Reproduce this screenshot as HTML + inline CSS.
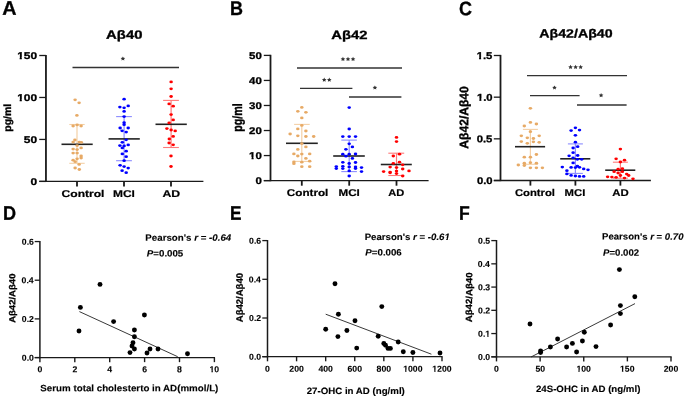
<!DOCTYPE html>
<html><head><meta charset="utf-8"><style>
html,body{margin:0;padding:0;background:#fff;}
svg{display:block;will-change:transform;}
text{font-family:"Liberation Sans",sans-serif;font-weight:bold;fill:#000;text-rendering:geometricPrecision;stroke:#000;}
</style></head><body>
<svg width="685" height="397" viewBox="0 0 685 397">
<rect width="685" height="397" fill="#fff"/>
<line x1="45.95" y1="54.90" x2="45.95" y2="182.01" stroke="#1a1a1a" stroke-width="1.8"/>
<line x1="39.25" y1="55.50" x2="45.95" y2="55.50" stroke="#1a1a1a" stroke-width="1.3"/>
<line x1="39.25" y1="97.47" x2="45.95" y2="97.47" stroke="#1a1a1a" stroke-width="1.3"/>
<line x1="39.25" y1="139.44" x2="45.95" y2="139.44" stroke="#1a1a1a" stroke-width="1.3"/>
<line x1="39.25" y1="181.41" x2="45.95" y2="181.41" stroke="#1a1a1a" stroke-width="1.3"/>
<line x1="39.25" y1="181.41" x2="203.40" y2="181.41" stroke="#1a1a1a" stroke-width="1.3"/>
<line x1="77.00" y1="181.41" x2="77.00" y2="186.51" stroke="#1a1a1a" stroke-width="1.8"/>
<line x1="124.00" y1="181.41" x2="124.00" y2="186.51" stroke="#1a1a1a" stroke-width="1.8"/>
<line x1="171.00" y1="181.41" x2="171.00" y2="186.51" stroke="#1a1a1a" stroke-width="1.8"/>
<line x1="72.50" y1="67.50" x2="179.00" y2="67.50" stroke="#333" stroke-width="1.4"/>
<polygon points="122.90,56.42 123.61,57.79 125.20,58.01 124.05,59.08 124.32,60.58 122.90,59.87 121.48,60.58 121.75,59.08 120.60,58.01 122.19,57.79" fill="#333"/>
<line x1="77.00" y1="124.50" x2="77.00" y2="163.30" stroke="#F4D0A6" stroke-width="1.2"/>
<line x1="69.30" y1="124.50" x2="84.70" y2="124.50" stroke="#F4D0A6" stroke-width="1.1"/>
<line x1="69.30" y1="163.30" x2="84.70" y2="163.30" stroke="#F4D0A6" stroke-width="1.1"/>
<line x1="61.50" y1="144.30" x2="92.70" y2="144.30" stroke="#222" stroke-width="1.6"/>
<ellipse cx="75.10" cy="99.80" rx="1.75" ry="1.4" fill="#E7AA66"/>
<ellipse cx="79.10" cy="102.80" rx="1.75" ry="1.4" fill="#E7AA66"/>
<ellipse cx="76.90" cy="115.40" rx="1.75" ry="1.4" fill="#E7AA66"/>
<ellipse cx="73.10" cy="126.00" rx="1.75" ry="1.4" fill="#E7AA66"/>
<ellipse cx="77.10" cy="124.90" rx="1.75" ry="1.4" fill="#E7AA66"/>
<ellipse cx="81.10" cy="126.00" rx="1.75" ry="1.4" fill="#E7AA66"/>
<ellipse cx="74.90" cy="140.00" rx="1.75" ry="1.4" fill="#E7AA66"/>
<ellipse cx="73.10" cy="142.10" rx="1.75" ry="1.4" fill="#E7AA66"/>
<ellipse cx="79.30" cy="142.10" rx="1.75" ry="1.4" fill="#E7AA66"/>
<ellipse cx="81.30" cy="142.30" rx="1.75" ry="1.4" fill="#E7AA66"/>
<ellipse cx="77.10" cy="145.60" rx="1.75" ry="1.4" fill="#E7AA66"/>
<ellipse cx="81.10" cy="147.90" rx="1.75" ry="1.4" fill="#E7AA66"/>
<ellipse cx="73.10" cy="149.10" rx="1.75" ry="1.4" fill="#E7AA66"/>
<ellipse cx="77.10" cy="149.60" rx="1.75" ry="1.4" fill="#E7AA66"/>
<ellipse cx="73.10" cy="153.10" rx="1.75" ry="1.4" fill="#E7AA66"/>
<ellipse cx="77.10" cy="153.10" rx="1.75" ry="1.4" fill="#E7AA66"/>
<ellipse cx="81.10" cy="156.00" rx="1.75" ry="1.4" fill="#E7AA66"/>
<ellipse cx="81.10" cy="158.00" rx="1.75" ry="1.4" fill="#E7AA66"/>
<ellipse cx="77.10" cy="158.80" rx="1.75" ry="1.4" fill="#E7AA66"/>
<ellipse cx="73.10" cy="160.20" rx="1.75" ry="1.4" fill="#E7AA66"/>
<ellipse cx="75.10" cy="161.70" rx="1.75" ry="1.4" fill="#E7AA66"/>
<ellipse cx="79.10" cy="164.40" rx="1.75" ry="1.4" fill="#E7AA66"/>
<ellipse cx="75.10" cy="168.00" rx="1.75" ry="1.4" fill="#E7AA66"/>
<ellipse cx="79.30" cy="169.50" rx="1.75" ry="1.4" fill="#E7AA66"/>
<line x1="124.10" y1="116.60" x2="124.10" y2="160.70" stroke="#8C8CFF" stroke-width="1.2"/>
<line x1="116.10" y1="116.60" x2="131.90" y2="116.60" stroke="#8C8CFF" stroke-width="1.1"/>
<line x1="116.10" y1="160.70" x2="131.90" y2="160.70" stroke="#8C8CFF" stroke-width="1.1"/>
<line x1="108.50" y1="138.90" x2="139.80" y2="138.90" stroke="#222" stroke-width="1.6"/>
<ellipse cx="124.10" cy="99.20" rx="1.75" ry="1.4" fill="#0000FF"/>
<ellipse cx="119.90" cy="107.10" rx="1.75" ry="1.4" fill="#0000FF"/>
<ellipse cx="124.10" cy="107.80" rx="1.75" ry="1.4" fill="#0000FF"/>
<ellipse cx="128.20" cy="105.90" rx="1.75" ry="1.4" fill="#0000FF"/>
<ellipse cx="124.10" cy="111.40" rx="1.75" ry="1.4" fill="#0000FF"/>
<ellipse cx="124.10" cy="116.60" rx="1.75" ry="1.4" fill="#0000FF"/>
<ellipse cx="124.10" cy="122.70" rx="1.75" ry="1.4" fill="#0000FF"/>
<ellipse cx="124.10" cy="124.70" rx="1.75" ry="1.4" fill="#0000FF"/>
<ellipse cx="120.10" cy="128.00" rx="1.75" ry="1.4" fill="#0000FF"/>
<ellipse cx="128.20" cy="128.00" rx="1.75" ry="1.4" fill="#0000FF"/>
<ellipse cx="122.10" cy="130.80" rx="1.75" ry="1.4" fill="#0000FF"/>
<ellipse cx="126.20" cy="132.10" rx="1.75" ry="1.4" fill="#0000FF"/>
<ellipse cx="126.20" cy="139.80" rx="1.75" ry="1.4" fill="#0000FF"/>
<ellipse cx="122.30" cy="142.30" rx="1.75" ry="1.4" fill="#0000FF"/>
<ellipse cx="119.90" cy="145.60" rx="1.75" ry="1.4" fill="#0000FF"/>
<ellipse cx="124.10" cy="145.90" rx="1.75" ry="1.4" fill="#0000FF"/>
<ellipse cx="128.20" cy="144.90" rx="1.75" ry="1.4" fill="#0000FF"/>
<ellipse cx="122.30" cy="147.90" rx="1.75" ry="1.4" fill="#0000FF"/>
<ellipse cx="126.20" cy="151.20" rx="1.75" ry="1.4" fill="#0000FF"/>
<ellipse cx="122.30" cy="153.90" rx="1.75" ry="1.4" fill="#0000FF"/>
<ellipse cx="126.20" cy="156.70" rx="1.75" ry="1.4" fill="#0000FF"/>
<ellipse cx="124.10" cy="160.70" rx="1.75" ry="1.4" fill="#0000FF"/>
<ellipse cx="120.10" cy="165.30" rx="1.75" ry="1.4" fill="#0000FF"/>
<ellipse cx="124.10" cy="166.60" rx="1.75" ry="1.4" fill="#0000FF"/>
<ellipse cx="128.20" cy="168.10" rx="1.75" ry="1.4" fill="#0000FF"/>
<ellipse cx="122.10" cy="170.70" rx="1.75" ry="1.4" fill="#0000FF"/>
<ellipse cx="126.20" cy="172.70" rx="1.75" ry="1.4" fill="#0000FF"/>
<line x1="171.10" y1="100.40" x2="171.10" y2="147.50" stroke="#FF7A7A" stroke-width="1.2"/>
<line x1="163.10" y1="100.40" x2="178.90" y2="100.40" stroke="#FF7A7A" stroke-width="1.1"/>
<line x1="163.10" y1="147.50" x2="178.90" y2="147.50" stroke="#FF7A7A" stroke-width="1.1"/>
<line x1="155.50" y1="124.30" x2="186.80" y2="124.30" stroke="#222" stroke-width="1.6"/>
<ellipse cx="171.10" cy="81.90" rx="1.75" ry="1.4" fill="#FF0000"/>
<ellipse cx="171.10" cy="88.80" rx="1.75" ry="1.4" fill="#FF0000"/>
<ellipse cx="171.10" cy="96.50" rx="1.75" ry="1.4" fill="#FF0000"/>
<ellipse cx="169.10" cy="103.90" rx="1.75" ry="1.4" fill="#FF0000"/>
<ellipse cx="173.20" cy="106.20" rx="1.75" ry="1.4" fill="#FF0000"/>
<ellipse cx="171.10" cy="114.60" rx="1.75" ry="1.4" fill="#FF0000"/>
<ellipse cx="173.20" cy="119.90" rx="1.75" ry="1.4" fill="#FF0000"/>
<ellipse cx="169.10" cy="122.90" rx="1.75" ry="1.4" fill="#FF0000"/>
<ellipse cx="166.90" cy="128.60" rx="1.75" ry="1.4" fill="#FF0000"/>
<ellipse cx="171.10" cy="130.00" rx="1.75" ry="1.4" fill="#FF0000"/>
<ellipse cx="175.20" cy="130.90" rx="1.75" ry="1.4" fill="#FF0000"/>
<ellipse cx="173.20" cy="136.40" rx="1.75" ry="1.4" fill="#FF0000"/>
<ellipse cx="169.30" cy="139.00" rx="1.75" ry="1.4" fill="#FF0000"/>
<ellipse cx="169.10" cy="143.00" rx="1.75" ry="1.4" fill="#FF0000"/>
<ellipse cx="173.20" cy="144.80" rx="1.75" ry="1.4" fill="#FF0000"/>
<ellipse cx="171.00" cy="156.00" rx="1.75" ry="1.4" fill="#FF0000"/>
<ellipse cx="171.00" cy="166.50" rx="1.75" ry="1.4" fill="#FF0000"/>
<line x1="270.50" y1="54.80" x2="270.50" y2="181.20" stroke="#1a1a1a" stroke-width="1.8"/>
<line x1="263.80" y1="55.40" x2="270.50" y2="55.40" stroke="#1a1a1a" stroke-width="1.3"/>
<line x1="263.80" y1="80.44" x2="270.50" y2="80.44" stroke="#1a1a1a" stroke-width="1.3"/>
<line x1="263.80" y1="105.48" x2="270.50" y2="105.48" stroke="#1a1a1a" stroke-width="1.3"/>
<line x1="263.80" y1="130.52" x2="270.50" y2="130.52" stroke="#1a1a1a" stroke-width="1.3"/>
<line x1="263.80" y1="155.56" x2="270.50" y2="155.56" stroke="#1a1a1a" stroke-width="1.3"/>
<line x1="263.80" y1="180.60" x2="270.50" y2="180.60" stroke="#1a1a1a" stroke-width="1.3"/>
<line x1="263.80" y1="180.60" x2="428.60" y2="180.60" stroke="#1a1a1a" stroke-width="1.3"/>
<line x1="301.80" y1="180.60" x2="301.80" y2="185.70" stroke="#1a1a1a" stroke-width="1.8"/>
<line x1="349.20" y1="180.60" x2="349.20" y2="185.70" stroke="#1a1a1a" stroke-width="1.8"/>
<line x1="396.50" y1="180.60" x2="396.50" y2="185.70" stroke="#1a1a1a" stroke-width="1.8"/>
<line x1="297.00" y1="68.00" x2="402.00" y2="68.00" stroke="#333" stroke-width="1.4"/>
<polygon points="342.95,56.82 343.66,58.19 345.25,58.41 344.10,59.48 344.37,60.98 342.95,60.27 341.53,60.98 341.80,59.48 340.65,58.41 342.24,58.19" fill="#333"/>
<polygon points="348.00,56.82 348.71,58.19 350.30,58.41 349.15,59.48 349.42,60.98 348.00,60.27 346.58,60.98 346.85,59.48 345.70,58.41 347.29,58.19" fill="#333"/>
<polygon points="353.05,56.82 353.76,58.19 355.35,58.41 354.20,59.48 354.47,60.98 353.05,60.27 351.63,60.98 351.90,59.48 350.75,58.41 352.34,58.19" fill="#333"/>
<line x1="300.00" y1="88.40" x2="352.40" y2="88.40" stroke="#333" stroke-width="1.4"/>
<polygon points="324.23,77.62 324.93,78.99 326.52,79.21 325.37,80.28 325.64,81.78 324.23,81.07 322.81,81.78 323.08,80.28 321.93,79.21 323.52,78.99" fill="#333"/>
<polygon points="329.27,77.62 329.98,78.99 331.57,79.21 330.42,80.28 330.69,81.78 329.27,81.07 327.86,81.78 328.13,80.28 326.98,79.21 328.57,78.99" fill="#333"/>
<line x1="349.00" y1="97.00" x2="401.40" y2="97.00" stroke="#333" stroke-width="1.4"/>
<polygon points="374.90,85.42 375.61,86.79 377.20,87.01 376.05,88.08 376.32,89.58 374.90,88.87 373.48,89.58 373.75,88.08 372.60,87.01 374.19,86.79" fill="#333"/>
<line x1="301.80" y1="124.40" x2="301.80" y2="161.40" stroke="#F4D0A6" stroke-width="1.2"/>
<line x1="294.10" y1="124.40" x2="309.70" y2="124.40" stroke="#F4D0A6" stroke-width="1.1"/>
<line x1="294.10" y1="161.40" x2="309.70" y2="161.40" stroke="#F4D0A6" stroke-width="1.1"/>
<line x1="286.00" y1="143.30" x2="317.80" y2="143.30" stroke="#222" stroke-width="1.6"/>
<ellipse cx="301.80" cy="107.40" rx="1.75" ry="1.4" fill="#E7AA66"/>
<ellipse cx="297.80" cy="111.30" rx="1.75" ry="1.4" fill="#E7AA66"/>
<ellipse cx="305.90" cy="112.30" rx="1.75" ry="1.4" fill="#E7AA66"/>
<ellipse cx="301.80" cy="117.90" rx="1.75" ry="1.4" fill="#E7AA66"/>
<ellipse cx="301.80" cy="125.40" rx="1.75" ry="1.4" fill="#E7AA66"/>
<ellipse cx="297.80" cy="128.90" rx="1.75" ry="1.4" fill="#E7AA66"/>
<ellipse cx="305.90" cy="131.00" rx="1.75" ry="1.4" fill="#E7AA66"/>
<ellipse cx="290.10" cy="134.00" rx="1.75" ry="1.4" fill="#E7AA66"/>
<ellipse cx="297.80" cy="135.80" rx="1.75" ry="1.4" fill="#E7AA66"/>
<ellipse cx="305.90" cy="136.50" rx="1.75" ry="1.4" fill="#E7AA66"/>
<ellipse cx="313.70" cy="136.50" rx="1.75" ry="1.4" fill="#E7AA66"/>
<ellipse cx="301.80" cy="143.60" rx="1.75" ry="1.4" fill="#E7AA66"/>
<ellipse cx="305.90" cy="146.90" rx="1.75" ry="1.4" fill="#E7AA66"/>
<ellipse cx="297.80" cy="149.40" rx="1.75" ry="1.4" fill="#E7AA66"/>
<ellipse cx="293.90" cy="153.90" rx="1.75" ry="1.4" fill="#E7AA66"/>
<ellipse cx="301.80" cy="154.10" rx="1.75" ry="1.4" fill="#E7AA66"/>
<ellipse cx="309.70" cy="153.90" rx="1.75" ry="1.4" fill="#E7AA66"/>
<ellipse cx="297.80" cy="156.00" rx="1.75" ry="1.4" fill="#E7AA66"/>
<ellipse cx="305.90" cy="158.40" rx="1.75" ry="1.4" fill="#E7AA66"/>
<ellipse cx="293.90" cy="162.00" rx="1.75" ry="1.4" fill="#E7AA66"/>
<ellipse cx="293.90" cy="163.70" rx="1.75" ry="1.4" fill="#E7AA66"/>
<ellipse cx="301.80" cy="162.20" rx="1.75" ry="1.4" fill="#E7AA66"/>
<ellipse cx="309.70" cy="161.20" rx="1.75" ry="1.4" fill="#E7AA66"/>
<ellipse cx="301.80" cy="166.70" rx="1.75" ry="1.4" fill="#E7AA66"/>
<ellipse cx="309.70" cy="166.70" rx="1.75" ry="1.4" fill="#E7AA66"/>
<line x1="349.20" y1="140.10" x2="349.20" y2="171.60" stroke="#8C8CFF" stroke-width="1.2"/>
<line x1="341.30" y1="140.10" x2="356.90" y2="140.10" stroke="#8C8CFF" stroke-width="1.1"/>
<line x1="341.30" y1="171.60" x2="356.90" y2="171.60" stroke="#8C8CFF" stroke-width="1.1"/>
<line x1="333.20" y1="156.00" x2="364.80" y2="156.00" stroke="#222" stroke-width="1.6"/>
<ellipse cx="349.20" cy="107.60" rx="1.75" ry="1.4" fill="#0000FF"/>
<ellipse cx="349.20" cy="129.00" rx="1.75" ry="1.4" fill="#0000FF"/>
<ellipse cx="342.80" cy="136.60" rx="1.75" ry="1.4" fill="#0000FF"/>
<ellipse cx="349.20" cy="136.60" rx="1.75" ry="1.4" fill="#0000FF"/>
<ellipse cx="355.50" cy="136.60" rx="1.75" ry="1.4" fill="#0000FF"/>
<ellipse cx="349.20" cy="143.80" rx="1.75" ry="1.4" fill="#0000FF"/>
<ellipse cx="352.40" cy="146.90" rx="1.75" ry="1.4" fill="#0000FF"/>
<ellipse cx="345.90" cy="149.30" rx="1.75" ry="1.4" fill="#0000FF"/>
<ellipse cx="342.80" cy="154.20" rx="1.75" ry="1.4" fill="#0000FF"/>
<ellipse cx="349.20" cy="154.20" rx="1.75" ry="1.4" fill="#0000FF"/>
<ellipse cx="355.50" cy="154.00" rx="1.75" ry="1.4" fill="#0000FF"/>
<ellipse cx="345.90" cy="156.20" rx="1.75" ry="1.4" fill="#0000FF"/>
<ellipse cx="352.40" cy="158.40" rx="1.75" ry="1.4" fill="#0000FF"/>
<ellipse cx="342.80" cy="162.30" rx="1.75" ry="1.4" fill="#0000FF"/>
<ellipse cx="349.20" cy="163.50" rx="1.75" ry="1.4" fill="#0000FF"/>
<ellipse cx="355.50" cy="162.50" rx="1.75" ry="1.4" fill="#0000FF"/>
<ellipse cx="336.30" cy="166.60" rx="1.75" ry="1.4" fill="#0000FF"/>
<ellipse cx="336.30" cy="168.60" rx="1.75" ry="1.4" fill="#0000FF"/>
<ellipse cx="342.80" cy="166.30" rx="1.75" ry="1.4" fill="#0000FF"/>
<ellipse cx="342.80" cy="168.60" rx="1.75" ry="1.4" fill="#0000FF"/>
<ellipse cx="349.20" cy="166.90" rx="1.75" ry="1.4" fill="#0000FF"/>
<ellipse cx="355.50" cy="166.90" rx="1.75" ry="1.4" fill="#0000FF"/>
<ellipse cx="355.50" cy="168.60" rx="1.75" ry="1.4" fill="#0000FF"/>
<ellipse cx="361.50" cy="167.60" rx="1.75" ry="1.4" fill="#0000FF"/>
<ellipse cx="349.20" cy="170.90" rx="1.75" ry="1.4" fill="#0000FF"/>
<ellipse cx="361.50" cy="171.60" rx="1.75" ry="1.4" fill="#0000FF"/>
<ellipse cx="349.20" cy="176.00" rx="1.75" ry="1.4" fill="#0000FF"/>
<line x1="396.50" y1="153.20" x2="396.50" y2="175.50" stroke="#FF7A7A" stroke-width="1.2"/>
<line x1="388.30" y1="153.20" x2="404.20" y2="153.20" stroke="#FF7A7A" stroke-width="1.1"/>
<line x1="388.30" y1="175.50" x2="404.20" y2="175.50" stroke="#FF7A7A" stroke-width="1.1"/>
<line x1="380.80" y1="164.50" x2="411.80" y2="164.50" stroke="#222" stroke-width="1.6"/>
<ellipse cx="396.50" cy="137.40" rx="1.75" ry="1.4" fill="#FF0000"/>
<ellipse cx="396.50" cy="141.60" rx="1.75" ry="1.4" fill="#FF0000"/>
<ellipse cx="399.50" cy="154.20" rx="1.75" ry="1.4" fill="#FF0000"/>
<ellipse cx="393.30" cy="156.00" rx="1.75" ry="1.4" fill="#FF0000"/>
<ellipse cx="399.50" cy="162.20" rx="1.75" ry="1.4" fill="#FF0000"/>
<ellipse cx="393.30" cy="163.30" rx="1.75" ry="1.4" fill="#FF0000"/>
<ellipse cx="402.70" cy="164.80" rx="1.75" ry="1.4" fill="#FF0000"/>
<ellipse cx="390.10" cy="167.10" rx="1.75" ry="1.4" fill="#FF0000"/>
<ellipse cx="396.50" cy="167.60" rx="1.75" ry="1.4" fill="#FF0000"/>
<ellipse cx="402.70" cy="169.00" rx="1.75" ry="1.4" fill="#FF0000"/>
<ellipse cx="383.60" cy="171.60" rx="1.75" ry="1.4" fill="#FF0000"/>
<ellipse cx="390.10" cy="172.10" rx="1.75" ry="1.4" fill="#FF0000"/>
<ellipse cx="390.10" cy="172.80" rx="1.75" ry="1.4" fill="#FF0000"/>
<ellipse cx="396.50" cy="171.10" rx="1.75" ry="1.4" fill="#FF0000"/>
<ellipse cx="396.50" cy="173.60" rx="1.75" ry="1.4" fill="#FF0000"/>
<ellipse cx="409.00" cy="170.90" rx="1.75" ry="1.4" fill="#FF0000"/>
<ellipse cx="402.70" cy="176.00" rx="1.75" ry="1.4" fill="#FF0000"/>
<line x1="500.50" y1="54.90" x2="500.50" y2="181.11" stroke="#1a1a1a" stroke-width="1.8"/>
<line x1="493.80" y1="55.50" x2="500.50" y2="55.50" stroke="#1a1a1a" stroke-width="1.3"/>
<line x1="493.80" y1="97.17" x2="500.50" y2="97.17" stroke="#1a1a1a" stroke-width="1.3"/>
<line x1="493.80" y1="138.84" x2="500.50" y2="138.84" stroke="#1a1a1a" stroke-width="1.3"/>
<line x1="493.80" y1="180.51" x2="500.50" y2="180.51" stroke="#1a1a1a" stroke-width="1.3"/>
<line x1="493.80" y1="180.51" x2="650.90" y2="180.51" stroke="#1a1a1a" stroke-width="1.3"/>
<line x1="530.40" y1="180.51" x2="530.40" y2="185.61" stroke="#1a1a1a" stroke-width="1.8"/>
<line x1="575.40" y1="180.51" x2="575.40" y2="185.61" stroke="#1a1a1a" stroke-width="1.8"/>
<line x1="620.40" y1="180.51" x2="620.40" y2="185.61" stroke="#1a1a1a" stroke-width="1.8"/>
<line x1="527.00" y1="75.60" x2="627.00" y2="75.60" stroke="#333" stroke-width="1.4"/>
<polygon points="570.55,64.82 571.26,66.19 572.85,66.41 571.70,67.48 571.97,68.98 570.55,68.27 569.13,68.98 569.40,67.48 568.25,66.41 569.84,66.19" fill="#333"/>
<polygon points="575.60,64.82 576.31,66.19 577.90,66.41 576.75,67.48 577.02,68.98 575.60,68.27 574.18,68.98 574.45,67.48 573.30,66.41 574.89,66.19" fill="#333"/>
<polygon points="580.65,64.82 581.36,66.19 582.95,66.41 581.80,67.48 582.07,68.98 580.65,68.27 579.23,68.98 579.50,67.48 578.35,66.41 579.94,66.19" fill="#333"/>
<line x1="530.00" y1="95.60" x2="579.60" y2="95.60" stroke="#333" stroke-width="1.4"/>
<polygon points="554.50,85.42 555.21,86.79 556.80,87.01 555.65,88.08 555.92,89.58 554.50,88.87 553.08,89.58 553.35,88.08 552.20,87.01 553.79,86.79" fill="#333"/>
<line x1="577.00" y1="105.00" x2="626.60" y2="105.00" stroke="#333" stroke-width="1.4"/>
<polygon points="601.10,93.02 601.81,94.39 603.40,94.61 602.25,95.68 602.52,97.18 601.10,96.47 599.68,97.18 599.95,95.68 598.80,94.61 600.39,94.39" fill="#333"/>
<line x1="530.40" y1="129.40" x2="530.40" y2="164.30" stroke="#F4D0A6" stroke-width="1.2"/>
<line x1="522.90" y1="129.40" x2="537.90" y2="129.40" stroke="#F4D0A6" stroke-width="1.1"/>
<line x1="522.90" y1="164.30" x2="537.90" y2="164.30" stroke="#F4D0A6" stroke-width="1.1"/>
<line x1="515.00" y1="146.70" x2="545.10" y2="146.70" stroke="#222" stroke-width="1.6"/>
<ellipse cx="530.40" cy="108.30" rx="1.75" ry="1.4" fill="#E7AA66"/>
<ellipse cx="530.40" cy="122.40" rx="1.75" ry="1.4" fill="#E7AA66"/>
<ellipse cx="536.40" cy="124.00" rx="1.75" ry="1.4" fill="#E7AA66"/>
<ellipse cx="524.30" cy="126.00" rx="1.75" ry="1.4" fill="#E7AA66"/>
<ellipse cx="530.40" cy="131.70" rx="1.75" ry="1.4" fill="#E7AA66"/>
<ellipse cx="521.30" cy="135.80" rx="1.75" ry="1.4" fill="#E7AA66"/>
<ellipse cx="539.20" cy="135.80" rx="1.75" ry="1.4" fill="#E7AA66"/>
<ellipse cx="527.30" cy="137.80" rx="1.75" ry="1.4" fill="#E7AA66"/>
<ellipse cx="533.40" cy="138.50" rx="1.75" ry="1.4" fill="#E7AA66"/>
<ellipse cx="521.30" cy="141.60" rx="1.75" ry="1.4" fill="#E7AA66"/>
<ellipse cx="527.30" cy="143.30" rx="1.75" ry="1.4" fill="#E7AA66"/>
<ellipse cx="533.40" cy="141.80" rx="1.75" ry="1.4" fill="#E7AA66"/>
<ellipse cx="539.20" cy="142.30" rx="1.75" ry="1.4" fill="#E7AA66"/>
<ellipse cx="536.40" cy="154.50" rx="1.75" ry="1.4" fill="#E7AA66"/>
<ellipse cx="524.30" cy="157.20" rx="1.75" ry="1.4" fill="#E7AA66"/>
<ellipse cx="530.40" cy="157.20" rx="1.75" ry="1.4" fill="#E7AA66"/>
<ellipse cx="524.30" cy="163.20" rx="1.75" ry="1.4" fill="#E7AA66"/>
<ellipse cx="530.40" cy="162.70" rx="1.75" ry="1.4" fill="#E7AA66"/>
<ellipse cx="536.40" cy="163.20" rx="1.75" ry="1.4" fill="#E7AA66"/>
<ellipse cx="518.30" cy="165.00" rx="1.75" ry="1.4" fill="#E7AA66"/>
<ellipse cx="524.30" cy="165.50" rx="1.75" ry="1.4" fill="#E7AA66"/>
<ellipse cx="530.40" cy="167.80" rx="1.75" ry="1.4" fill="#E7AA66"/>
<ellipse cx="536.40" cy="167.80" rx="1.75" ry="1.4" fill="#E7AA66"/>
<ellipse cx="542.40" cy="167.80" rx="1.75" ry="1.4" fill="#E7AA66"/>
<line x1="575.40" y1="143.90" x2="575.40" y2="173.40" stroke="#8C8CFF" stroke-width="1.2"/>
<line x1="567.90" y1="143.90" x2="582.90" y2="143.90" stroke="#8C8CFF" stroke-width="1.1"/>
<line x1="567.90" y1="173.40" x2="582.90" y2="173.40" stroke="#8C8CFF" stroke-width="1.1"/>
<line x1="560.20" y1="158.80" x2="590.30" y2="158.80" stroke="#222" stroke-width="1.6"/>
<ellipse cx="575.40" cy="127.80" rx="1.75" ry="1.4" fill="#0000FF"/>
<ellipse cx="571.10" cy="130.60" rx="1.75" ry="1.4" fill="#0000FF"/>
<ellipse cx="579.50" cy="130.10" rx="1.75" ry="1.4" fill="#0000FF"/>
<ellipse cx="575.40" cy="135.30" rx="1.75" ry="1.4" fill="#0000FF"/>
<ellipse cx="575.40" cy="142.20" rx="1.75" ry="1.4" fill="#0000FF"/>
<ellipse cx="577.70" cy="146.70" rx="1.75" ry="1.4" fill="#0000FF"/>
<ellipse cx="573.10" cy="148.00" rx="1.75" ry="1.4" fill="#0000FF"/>
<ellipse cx="573.10" cy="152.70" rx="1.75" ry="1.4" fill="#0000FF"/>
<ellipse cx="569.10" cy="155.80" rx="1.75" ry="1.4" fill="#0000FF"/>
<ellipse cx="577.70" cy="155.50" rx="1.75" ry="1.4" fill="#0000FF"/>
<ellipse cx="573.10" cy="157.80" rx="1.75" ry="1.4" fill="#0000FF"/>
<ellipse cx="577.40" cy="159.30" rx="1.75" ry="1.4" fill="#0000FF"/>
<ellipse cx="581.70" cy="159.30" rx="1.75" ry="1.4" fill="#0000FF"/>
<ellipse cx="573.10" cy="162.90" rx="1.75" ry="1.4" fill="#0000FF"/>
<ellipse cx="562.30" cy="167.10" rx="1.75" ry="1.4" fill="#0000FF"/>
<ellipse cx="571.10" cy="167.40" rx="1.75" ry="1.4" fill="#0000FF"/>
<ellipse cx="575.40" cy="167.60" rx="1.75" ry="1.4" fill="#0000FF"/>
<ellipse cx="577.40" cy="166.10" rx="1.75" ry="1.4" fill="#0000FF"/>
<ellipse cx="579.50" cy="167.30" rx="1.75" ry="1.4" fill="#0000FF"/>
<ellipse cx="583.70" cy="168.90" rx="1.75" ry="1.4" fill="#0000FF"/>
<ellipse cx="588.00" cy="169.80" rx="1.75" ry="1.4" fill="#0000FF"/>
<ellipse cx="566.90" cy="170.70" rx="1.75" ry="1.4" fill="#0000FF"/>
<ellipse cx="566.90" cy="173.90" rx="1.75" ry="1.4" fill="#0000FF"/>
<ellipse cx="571.10" cy="175.40" rx="1.75" ry="1.4" fill="#0000FF"/>
<ellipse cx="575.40" cy="176.00" rx="1.75" ry="1.4" fill="#0000FF"/>
<ellipse cx="579.50" cy="176.40" rx="1.75" ry="1.4" fill="#0000FF"/>
<ellipse cx="583.70" cy="176.40" rx="1.75" ry="1.4" fill="#0000FF"/>
<line x1="620.40" y1="162.20" x2="620.40" y2="178.20" stroke="#FF7A7A" stroke-width="1.2"/>
<line x1="612.90" y1="162.20" x2="627.90" y2="162.20" stroke="#FF7A7A" stroke-width="1.1"/>
<line x1="612.90" y1="178.20" x2="627.90" y2="178.20" stroke="#FF7A7A" stroke-width="1.1"/>
<line x1="605.20" y1="170.20" x2="635.30" y2="170.20" stroke="#222" stroke-width="1.6"/>
<ellipse cx="620.40" cy="149.10" rx="1.75" ry="1.4" fill="#FF0000"/>
<ellipse cx="616.10" cy="158.80" rx="1.75" ry="1.4" fill="#FF0000"/>
<ellipse cx="624.50" cy="160.20" rx="1.75" ry="1.4" fill="#FF0000"/>
<ellipse cx="620.40" cy="162.00" rx="1.75" ry="1.4" fill="#FF0000"/>
<ellipse cx="618.10" cy="169.20" rx="1.75" ry="1.4" fill="#FF0000"/>
<ellipse cx="622.40" cy="168.70" rx="1.75" ry="1.4" fill="#FF0000"/>
<ellipse cx="614.10" cy="171.70" rx="1.75" ry="1.4" fill="#FF0000"/>
<ellipse cx="618.10" cy="173.00" rx="1.75" ry="1.4" fill="#FF0000"/>
<ellipse cx="622.40" cy="171.70" rx="1.75" ry="1.4" fill="#FF0000"/>
<ellipse cx="626.70" cy="174.10" rx="1.75" ry="1.4" fill="#FF0000"/>
<ellipse cx="628.70" cy="175.50" rx="1.75" ry="1.4" fill="#FF0000"/>
<ellipse cx="620.40" cy="175.50" rx="1.75" ry="1.4" fill="#FF0000"/>
<ellipse cx="607.60" cy="176.80" rx="1.75" ry="1.4" fill="#FF0000"/>
<ellipse cx="611.90" cy="177.10" rx="1.75" ry="1.4" fill="#FF0000"/>
<ellipse cx="616.10" cy="177.30" rx="1.75" ry="1.4" fill="#FF0000"/>
<ellipse cx="624.50" cy="178.10" rx="1.75" ry="1.4" fill="#FF0000"/>
<ellipse cx="633.00" cy="178.80" rx="1.75" ry="1.4" fill="#FF0000"/>
<line x1="39.90" y1="240.96" x2="39.90" y2="358.15" stroke="#1a1a1a" stroke-width="1.5"/>
<line x1="34.70" y1="241.56" x2="39.90" y2="241.56" stroke="#1a1a1a" stroke-width="1.3"/>
<line x1="34.70" y1="280.22" x2="39.90" y2="280.22" stroke="#1a1a1a" stroke-width="1.3"/>
<line x1="34.70" y1="318.89" x2="39.90" y2="318.89" stroke="#1a1a1a" stroke-width="1.3"/>
<line x1="34.70" y1="357.55" x2="39.90" y2="357.55" stroke="#1a1a1a" stroke-width="1.3"/>
<line x1="34.70" y1="357.55" x2="215.00" y2="357.55" stroke="#1a1a1a" stroke-width="1.3"/>
<line x1="39.90" y1="357.55" x2="39.90" y2="362.15" stroke="#1a1a1a" stroke-width="1.4"/>
<line x1="74.80" y1="357.55" x2="74.80" y2="362.15" stroke="#1a1a1a" stroke-width="1.4"/>
<line x1="109.70" y1="357.55" x2="109.70" y2="362.15" stroke="#1a1a1a" stroke-width="1.4"/>
<line x1="144.60" y1="357.55" x2="144.60" y2="362.15" stroke="#1a1a1a" stroke-width="1.4"/>
<line x1="179.50" y1="357.55" x2="179.50" y2="362.15" stroke="#1a1a1a" stroke-width="1.4"/>
<line x1="214.40" y1="357.55" x2="214.40" y2="362.15" stroke="#1a1a1a" stroke-width="1.4"/>
<line x1="79.40" y1="311.60" x2="177.70" y2="356.70" stroke="#222" stroke-width="0.9"/>
<circle cx="100.00" cy="284.40" r="2.45" fill="#000"/>
<circle cx="80.40" cy="307.40" r="2.45" fill="#000"/>
<circle cx="144.40" cy="315.00" r="2.45" fill="#000"/>
<circle cx="113.60" cy="321.60" r="2.45" fill="#000"/>
<circle cx="79.00" cy="331.00" r="2.45" fill="#000"/>
<circle cx="134.40" cy="330.00" r="2.45" fill="#000"/>
<circle cx="134.40" cy="336.80" r="2.45" fill="#000"/>
<circle cx="133.00" cy="342.80" r="2.45" fill="#000"/>
<circle cx="132.00" cy="346.00" r="2.45" fill="#000"/>
<circle cx="134.40" cy="349.00" r="2.45" fill="#000"/>
<circle cx="130.00" cy="352.60" r="2.45" fill="#000"/>
<circle cx="150.00" cy="349.00" r="2.45" fill="#000"/>
<circle cx="147.00" cy="353.00" r="2.45" fill="#000"/>
<circle cx="158.00" cy="349.00" r="2.45" fill="#000"/>
<circle cx="187.50" cy="353.80" r="2.45" fill="#000"/>
<line x1="267.50" y1="240.00" x2="267.50" y2="357.30" stroke="#1a1a1a" stroke-width="1.5"/>
<line x1="262.30" y1="240.60" x2="267.50" y2="240.60" stroke="#1a1a1a" stroke-width="1.3"/>
<line x1="262.30" y1="279.30" x2="267.50" y2="279.30" stroke="#1a1a1a" stroke-width="1.3"/>
<line x1="262.30" y1="318.00" x2="267.50" y2="318.00" stroke="#1a1a1a" stroke-width="1.3"/>
<line x1="262.30" y1="356.70" x2="267.50" y2="356.70" stroke="#1a1a1a" stroke-width="1.3"/>
<line x1="262.30" y1="356.70" x2="442.60" y2="356.70" stroke="#1a1a1a" stroke-width="1.3"/>
<line x1="267.50" y1="356.70" x2="267.50" y2="361.30" stroke="#1a1a1a" stroke-width="1.4"/>
<line x1="296.58" y1="356.70" x2="296.58" y2="361.30" stroke="#1a1a1a" stroke-width="1.4"/>
<line x1="325.67" y1="356.70" x2="325.67" y2="361.30" stroke="#1a1a1a" stroke-width="1.4"/>
<line x1="354.75" y1="356.70" x2="354.75" y2="361.30" stroke="#1a1a1a" stroke-width="1.4"/>
<line x1="383.83" y1="356.70" x2="383.83" y2="361.30" stroke="#1a1a1a" stroke-width="1.4"/>
<line x1="412.91" y1="356.70" x2="412.91" y2="361.30" stroke="#1a1a1a" stroke-width="1.4"/>
<line x1="442.00" y1="356.70" x2="442.00" y2="361.30" stroke="#1a1a1a" stroke-width="1.4"/>
<line x1="325.70" y1="314.20" x2="431.40" y2="354.20" stroke="#222" stroke-width="0.9"/>
<circle cx="381.80" cy="306.60" r="2.45" fill="#000"/>
<circle cx="338.40" cy="314.20" r="2.45" fill="#000"/>
<circle cx="355.00" cy="320.80" r="2.45" fill="#000"/>
<circle cx="335.00" cy="283.80" r="2.45" fill="#000"/>
<circle cx="325.70" cy="329.30" r="2.45" fill="#000"/>
<circle cx="346.90" cy="330.50" r="2.45" fill="#000"/>
<circle cx="337.90" cy="336.60" r="2.45" fill="#000"/>
<circle cx="378.20" cy="336.20" r="2.45" fill="#000"/>
<circle cx="398.20" cy="342.00" r="2.45" fill="#000"/>
<circle cx="383.80" cy="343.50" r="2.45" fill="#000"/>
<circle cx="385.50" cy="345.20" r="2.45" fill="#000"/>
<circle cx="356.70" cy="348.10" r="2.45" fill="#000"/>
<circle cx="388.00" cy="348.40" r="2.45" fill="#000"/>
<circle cx="390.40" cy="348.40" r="2.45" fill="#000"/>
<circle cx="403.30" cy="351.80" r="2.45" fill="#000"/>
<circle cx="412.90" cy="352.50" r="2.45" fill="#000"/>
<circle cx="440.00" cy="353.00" r="2.45" fill="#000"/>
<line x1="496.50" y1="240.00" x2="496.50" y2="357.40" stroke="#1a1a1a" stroke-width="1.5"/>
<line x1="491.30" y1="240.60" x2="496.50" y2="240.60" stroke="#1a1a1a" stroke-width="1.3"/>
<line x1="491.30" y1="263.84" x2="496.50" y2="263.84" stroke="#1a1a1a" stroke-width="1.3"/>
<line x1="491.30" y1="287.08" x2="496.50" y2="287.08" stroke="#1a1a1a" stroke-width="1.3"/>
<line x1="491.30" y1="310.32" x2="496.50" y2="310.32" stroke="#1a1a1a" stroke-width="1.3"/>
<line x1="491.30" y1="333.56" x2="496.50" y2="333.56" stroke="#1a1a1a" stroke-width="1.3"/>
<line x1="491.30" y1="356.80" x2="496.50" y2="356.80" stroke="#1a1a1a" stroke-width="1.3"/>
<line x1="491.30" y1="356.80" x2="671.60" y2="356.80" stroke="#1a1a1a" stroke-width="1.3"/>
<line x1="496.50" y1="356.80" x2="496.50" y2="361.40" stroke="#1a1a1a" stroke-width="1.4"/>
<line x1="540.12" y1="356.80" x2="540.12" y2="361.40" stroke="#1a1a1a" stroke-width="1.4"/>
<line x1="583.75" y1="356.80" x2="583.75" y2="361.40" stroke="#1a1a1a" stroke-width="1.4"/>
<line x1="627.38" y1="356.80" x2="627.38" y2="361.40" stroke="#1a1a1a" stroke-width="1.4"/>
<line x1="671.00" y1="356.80" x2="671.00" y2="361.40" stroke="#1a1a1a" stroke-width="1.4"/>
<line x1="531.00" y1="357.00" x2="635.00" y2="303.60" stroke="#222" stroke-width="0.9"/>
<circle cx="619.40" cy="269.60" r="2.45" fill="#000"/>
<circle cx="634.80" cy="296.80" r="2.45" fill="#000"/>
<circle cx="620.40" cy="305.60" r="2.45" fill="#000"/>
<circle cx="620.40" cy="313.60" r="2.45" fill="#000"/>
<circle cx="530.00" cy="324.00" r="2.45" fill="#000"/>
<circle cx="610.60" cy="325.00" r="2.45" fill="#000"/>
<circle cx="584.30" cy="332.20" r="2.45" fill="#000"/>
<circle cx="557.60" cy="339.00" r="2.45" fill="#000"/>
<circle cx="582.40" cy="341.00" r="2.45" fill="#000"/>
<circle cx="572.40" cy="343.40" r="2.45" fill="#000"/>
<circle cx="550.40" cy="347.00" r="2.45" fill="#000"/>
<circle cx="566.60" cy="347.00" r="2.45" fill="#000"/>
<circle cx="596.00" cy="346.60" r="2.45" fill="#000"/>
<circle cx="540.60" cy="351.00" r="2.45" fill="#000"/>
<circle cx="540.60" cy="352.60" r="2.45" fill="#000"/>
<circle cx="576.60" cy="352.00" r="2.45" fill="#000"/>
<text transform="translate(2.20,14.80) scale(1.0077,1) skewY(0.04)" font-size="19.6" stroke-width="0.3">A</text>
<text transform="translate(229.95,14.90) scale(0.9167,1) skewY(0.04)" font-size="19.6" stroke-width="0.3">B</text>
<text transform="translate(458.91,15.30) scale(0.9176,1) skewY(0.04)" font-size="19.6" stroke-width="0.3">C</text>
<text transform="translate(3.04,219.70) scale(0.9250,1) skewY(0.04)" font-size="19.6" stroke-width="0.3">D</text>
<text transform="translate(230.00,219.80) scale(0.8818,1) skewY(0.04)" font-size="19.6" stroke-width="0.3">E</text>
<text transform="translate(458.98,219.80) scale(0.9000,1) skewY(0.04)" font-size="19.6" stroke-width="0.3">F</text>
<text transform="translate(17.13,59.00) scale(1.2200,1) skewY(0.04)" font-size="9.8" stroke-width="0.3">150</text><g transform="translate(17.13,59.00) scale(1.2200,1) skewY(0.04)" fill="#fff"><polygon points="-0.183,1.000 -0.183,-2.050 2.077,-2.050 2.077,1.000"/><polygon points="3.842,1.000 3.842,-2.050 5.628,-2.050 5.628,1.000"/></g>
<text transform="translate(17.13,100.97) scale(1.2200,1) skewY(0.04)" font-size="9.8" stroke-width="0.3">100</text><g transform="translate(17.13,100.97) scale(1.2200,1) skewY(0.04)" fill="#fff"><polygon points="-0.183,1.000 -0.183,-2.050 2.077,-2.050 2.077,1.000"/><polygon points="3.842,1.000 3.842,-2.050 5.628,-2.050 5.628,1.000"/></g>
<text transform="translate(23.84,142.94) scale(1.2200,1) skewY(0.04)" font-size="9.8" stroke-width="0.3">50</text>
<text transform="translate(30.55,184.91) scale(1.2200,1) skewY(0.04)" font-size="9.8" stroke-width="0.3">0</text>
<text transform="translate(61.53,197.00) scale(1.2326,1) skewY(0.04)" font-size="9.8" stroke-width="0.2">Control</text>
<text transform="translate(113.04,197.00) scale(1.2182,1) skewY(0.04)" font-size="9.8" stroke-width="0.2">MCI</text>
<text transform="translate(162.44,197.00) scale(1.2519,1) skewY(0.04)" font-size="9.8" stroke-width="0.2">AD</text>
<text transform="translate(106.09,38.70) scale(1.2383,1) skewY(0.04)" font-size="12" stroke-width="0.3">Aβ40</text>
<text transform="translate(10.89,131.77) rotate(-90) scale(1.0330,1.0256) skewY(0.04)" font-size="10.2" stroke-width="0.3">pg/ml</text>
<text transform="translate(249.11,58.90) scale(1.1700,1) skewY(0.04)" font-size="9.8" stroke-width="0.3">50</text>
<text transform="translate(249.11,83.94) scale(1.1700,1) skewY(0.04)" font-size="9.8" stroke-width="0.3">40</text>
<text transform="translate(249.11,108.98) scale(1.1700,1) skewY(0.04)" font-size="9.8" stroke-width="0.3">30</text>
<text transform="translate(249.11,134.02) scale(1.1700,1) skewY(0.04)" font-size="9.8" stroke-width="0.3">20</text>
<text transform="translate(249.11,159.06) scale(1.1700,1) skewY(0.04)" font-size="9.8" stroke-width="0.3">10</text><g transform="translate(249.11,159.06) scale(1.1700,1) skewY(0.04)" fill="#fff"><polygon points="-0.183,1.000 -0.183,-2.050 2.077,-2.050 2.077,1.000"/><polygon points="3.842,1.000 3.842,-2.050 5.628,-2.050 5.628,1.000"/></g>
<text transform="translate(255.55,184.10) scale(1.1700,1) skewY(0.04)" font-size="9.8" stroke-width="0.3">0</text>
<text transform="translate(286.85,196.00) scale(1.1911,1) skewY(0.04)" font-size="9.8" stroke-width="0.2">Control</text>
<text transform="translate(338.46,196.00) scale(1.1879,1) skewY(0.04)" font-size="9.8" stroke-width="0.2">MCI</text>
<text transform="translate(388.27,196.00) scale(1.1333,1) skewY(0.04)" font-size="9.8" stroke-width="0.2">AD</text>
<text transform="translate(331.29,39.00) scale(1.2383,1) skewY(0.04)" font-size="12" stroke-width="0.3">Aβ42</text>
<text transform="translate(242.07,131.79) rotate(-90) scale(1.0485,1.3026) skewY(0.04)" font-size="10.2" stroke-width="0.3">pg/ml</text>
<text transform="translate(476.68,59.00) scale(1.1500,1) skewY(0.04)" font-size="9.8" stroke-width="0.3">1.5</text><g transform="translate(476.68,59.00) scale(1.1500,1) skewY(0.04)" fill="#fff"><polygon points="-0.183,1.000 -0.183,-2.050 2.077,-2.050 2.077,1.000"/><polygon points="3.842,1.000 3.842,-2.050 5.628,-2.050 5.628,1.000"/></g>
<text transform="translate(476.96,100.67) scale(1.1500,1) skewY(0.04)" font-size="9.8" stroke-width="0.3">1.0</text><g transform="translate(476.96,100.67) scale(1.1500,1) skewY(0.04)" fill="#fff"><polygon points="-0.183,1.000 -0.183,-2.050 2.077,-2.050 2.077,1.000"/><polygon points="3.842,1.000 3.842,-2.050 5.628,-2.050 5.628,1.000"/></g>
<text transform="translate(476.68,142.34) scale(1.1500,1) skewY(0.04)" font-size="9.8" stroke-width="0.3">0.5</text>
<text transform="translate(476.96,184.01) scale(1.1500,1) skewY(0.04)" font-size="9.8" stroke-width="0.3">0.0</text>
<text transform="translate(514.98,196.00) scale(1.1467,1) skewY(0.04)" font-size="9.8" stroke-width="0.2">Control</text>
<text transform="translate(564.59,196.00) scale(1.1515,1) skewY(0.04)" font-size="9.8" stroke-width="0.2">MCI</text>
<text transform="translate(612.26,196.00) scale(1.1630,1) skewY(0.04)" font-size="9.8" stroke-width="0.2">AD</text>
<text transform="translate(539.30,37.40) scale(1.1820,1) skewY(0.04)" font-size="12" stroke-width="0.3">Aβ42/Aβ40</text>
<text transform="translate(468.26,148.66) rotate(-90) scale(1.0241,1.0545) skewY(0.04)" font-size="11.8" stroke-width="0.3">Aβ42/Aβ40</text>
<text transform="translate(21.85,244.66) scale(1.0000,1) skewY(0.04)" font-size="8.7" stroke-width="0.12">0.6</text>
<text transform="translate(21.60,283.32) scale(1.0000,1) skewY(0.04)" font-size="8.7" stroke-width="0.12">0.4</text>
<text transform="translate(21.85,321.99) scale(1.0000,1) skewY(0.04)" font-size="8.7" stroke-width="0.12">0.2</text>
<text transform="translate(21.85,360.65) scale(1.0000,1) skewY(0.04)" font-size="8.7" stroke-width="0.12">0.0</text>
<text transform="translate(37.52,372.30) scale(1.0000,1) skewY(0.04)" font-size="8.7" stroke-width="0.12">0</text>
<text transform="translate(72.42,372.30) scale(1.0000,1) skewY(0.04)" font-size="8.7" stroke-width="0.12">2</text>
<text transform="translate(107.20,372.30) scale(1.0000,1) skewY(0.04)" font-size="8.7" stroke-width="0.12">4</text>
<text transform="translate(142.22,372.30) scale(1.0000,1) skewY(0.04)" font-size="8.7" stroke-width="0.12">6</text>
<text transform="translate(177.12,372.30) scale(1.0000,1) skewY(0.04)" font-size="8.7" stroke-width="0.12">8</text>
<text transform="translate(209.53,372.30) scale(1.0000,1) skewY(0.04)" font-size="8.7" stroke-width="0.12">10</text><g transform="translate(209.53,372.30) scale(1.0000,1) skewY(0.04)" fill="#fff"><polygon points="-0.252,1.000 -0.252,-1.848 1.911,-1.848 1.911,1.000"/><polygon points="3.344,1.000 3.344,-1.848 5.046,-1.848 5.046,1.000"/></g>
<text transform="translate(15.16,322.85) rotate(-90) scale(1.0041,0.9222) skewY(0.04)" font-size="9.5" stroke-width="0.28">Aβ42/Aβ40</text>
<text transform="translate(40.33,391.20) scale(1.0623,1) skewY(0.04)" font-size="9.2" stroke-width="0.12">Serum total cholesterto in AD(mmol/L)</text>
<text transform="translate(145.37,240.80) scale(1.0584,1) skewY(0.04)" font-size="9.2" stroke-width="0.12">Pearson's <tspan font-style="italic">r</tspan> = <tspan font-style="italic">-0.64</tspan></text>
<text transform="translate(146.84,256.60) scale(1.0559,1) skewY(0.04)" font-size="9.2" stroke-width="0.12"><tspan font-style="italic">P</tspan>=0.005</text>
<text transform="translate(249.05,243.70) scale(1.0000,1) skewY(0.04)" font-size="8.7" stroke-width="0.12">0.6</text>
<text transform="translate(248.80,282.40) scale(1.0000,1) skewY(0.04)" font-size="8.7" stroke-width="0.12">0.4</text>
<text transform="translate(249.05,321.10) scale(1.0000,1) skewY(0.04)" font-size="8.7" stroke-width="0.12">0.2</text>
<text transform="translate(249.05,359.80) scale(1.0000,1) skewY(0.04)" font-size="8.7" stroke-width="0.12">0.0</text>
<text transform="translate(265.12,371.70) scale(1.0000,1) skewY(0.04)" font-size="8.7" stroke-width="0.12">0</text>
<text transform="translate(289.33,371.70) scale(1.0000,1) skewY(0.04)" font-size="8.7" stroke-width="0.12">200</text>
<text transform="translate(318.42,371.70) scale(1.0000,1) skewY(0.04)" font-size="8.7" stroke-width="0.12">400</text>
<text transform="translate(347.50,371.70) scale(1.0000,1) skewY(0.04)" font-size="8.7" stroke-width="0.12">600</text>
<text transform="translate(376.58,371.70) scale(1.0000,1) skewY(0.04)" font-size="8.7" stroke-width="0.12">800</text>
<text transform="translate(403.16,371.70) scale(1.0000,1) skewY(0.04)" font-size="8.7" stroke-width="0.12">1000</text><g transform="translate(403.16,371.70) scale(1.0000,1) skewY(0.04)" fill="#fff"><polygon points="-0.252,1.000 -0.252,-1.848 1.911,-1.848 1.911,1.000"/><polygon points="3.344,1.000 3.344,-1.848 5.046,-1.848 5.046,1.000"/></g>
<text transform="translate(432.25,371.70) scale(1.0000,1) skewY(0.04)" font-size="8.7" stroke-width="0.12">1200</text><g transform="translate(432.25,371.70) scale(1.0000,1) skewY(0.04)" fill="#fff"><polygon points="-0.252,1.000 -0.252,-1.848 1.911,-1.848 1.911,1.000"/><polygon points="3.344,1.000 3.344,-1.848 5.046,-1.848 5.046,1.000"/></g>
<text transform="translate(242.64,322.25) rotate(-90) scale(1.0041,0.9778) skewY(0.04)" font-size="9.5" stroke-width="0.28">Aβ42/Aβ40</text>
<text transform="translate(306.64,394.00) scale(1.0551,1) skewY(0.04)" font-size="9.2" stroke-width="0.12">27-OHC in AD (ng/ml)</text>
<text transform="translate(364.68,240.00) scale(1.0500,1) skewY(0.04)" font-size="9.2" stroke-width="0.12">Pearson's <tspan font-style="italic">r</tspan> = <tspan font-style="italic">-0.61</tspan></text><g transform="translate(364.68,240.00) scale(1.0500,1) skewY(0.04)" fill="#fff"><polygon points="75.162,1.000 75.720,-1.998 77.976,-1.998 77.393,1.000"/><polygon points="78.894,1.000 79.479,-1.998 81.255,-1.998 80.684,1.000"/></g>
<text transform="translate(365.34,255.50) scale(1.0559,1) skewY(0.04)" font-size="9.2" stroke-width="0.12"><tspan font-style="italic">P</tspan>=0.006</text>
<text transform="translate(478.05,243.70) scale(1.0000,1) skewY(0.04)" font-size="8.7" stroke-width="0.12">0.5</text>
<text transform="translate(477.80,266.94) scale(1.0000,1) skewY(0.04)" font-size="8.7" stroke-width="0.12">0.4</text>
<text transform="translate(478.05,290.18) scale(1.0000,1) skewY(0.04)" font-size="8.7" stroke-width="0.12">0.3</text>
<text transform="translate(478.05,313.42) scale(1.0000,1) skewY(0.04)" font-size="8.7" stroke-width="0.12">0.2</text>
<text transform="translate(478.05,336.66) scale(1.0000,1) skewY(0.04)" font-size="8.7" stroke-width="0.12">0.1</text><g transform="translate(478.05,336.66) scale(1.0000,1) skewY(0.04)" fill="#fff"><polygon points="6.982,1.000 6.982,-1.848 9.145,-1.848 9.145,1.000"/><polygon points="10.579,1.000 10.579,-1.848 12.281,-1.848 12.281,1.000"/></g>
<text transform="translate(478.05,359.90) scale(1.0000,1) skewY(0.04)" font-size="8.7" stroke-width="0.12">0.0</text>
<text transform="translate(494.12,371.70) scale(1.0000,1) skewY(0.04)" font-size="8.7" stroke-width="0.12">0</text>
<text transform="translate(535.38,371.70) scale(1.0000,1) skewY(0.04)" font-size="8.7" stroke-width="0.12">50</text>
<text transform="translate(576.38,371.70) scale(1.0000,1) skewY(0.04)" font-size="8.7" stroke-width="0.12">100</text><g transform="translate(576.38,371.70) scale(1.0000,1) skewY(0.04)" fill="#fff"><polygon points="-0.252,1.000 -0.252,-1.848 1.911,-1.848 1.911,1.000"/><polygon points="3.344,1.000 3.344,-1.848 5.046,-1.848 5.046,1.000"/></g>
<text transform="translate(620.00,371.70) scale(1.0000,1) skewY(0.04)" font-size="8.7" stroke-width="0.12">150</text><g transform="translate(620.00,371.70) scale(1.0000,1) skewY(0.04)" fill="#fff"><polygon points="-0.252,1.000 -0.252,-1.848 1.911,-1.848 1.911,1.000"/><polygon points="3.344,1.000 3.344,-1.848 5.046,-1.848 5.046,1.000"/></g>
<text transform="translate(663.75,371.70) scale(1.0000,1) skewY(0.04)" font-size="8.7" stroke-width="0.12">200</text>
<text transform="translate(472.11,322.25) rotate(-90) scale(1.0144,0.9444) skewY(0.04)" font-size="9.5" stroke-width="0.28">Aβ42/Aβ40</text>
<text transform="translate(535.94,392.00) scale(1.0528,1) skewY(0.04)" font-size="9.2" stroke-width="0.12">24S-OHC in AD (ng/ml)</text>
<text transform="translate(602.08,239.60) scale(1.0426,1) skewY(0.04)" font-size="9.2" stroke-width="0.12">Pearson's <tspan font-style="italic">r</tspan> = <tspan font-style="italic">0.70</tspan></text>
<text transform="translate(603.04,255.70) scale(1.0471,1) skewY(0.04)" font-size="9.2" stroke-width="0.12"><tspan font-style="italic">P</tspan>=0.002</text>
</svg>
</body></html>
